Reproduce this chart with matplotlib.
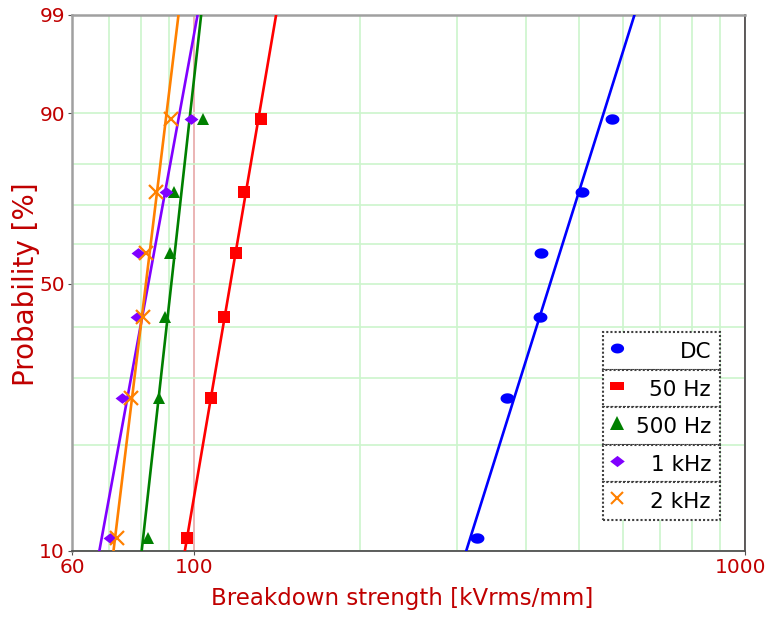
import numpy as np
import matplotlib
matplotlib.use("Agg")
import matplotlib.pyplot as plt
from matplotlib.patches import Rectangle
from matplotlib.transforms import ScaledTranslation

plt.rcParams['font.family'] = ['DejaVu Sans']

# Breakdown values [kVrms/mm], 6 samples per series
labels = ['DC', '50 Hz', '500 Hz', '1 kHz', '2 kHz']
dc = [326, 370, 425, 427, 505, 573]
hz50 = [96.9, 107.3, 113.3, 119.1, 123.0, 132.1]
hz500 = [82.4, 86.2, 88.5, 90.3, 92.0, 103.6]
khz1 = [70.3, 74.1, 78.6, 79.2, 88.9, 98.7]
khz2 = [72.5, 76.8, 80.8, 81.8, 85.1, 90.8]

# Weibull fit lines (scale alpha, shape beta)
alpha = [474, 120.7, 93.1, 85.9, 83.9]
beta = [5.37, 9.9, 15.2, 9.2, 13.9]

colors = ['#0000FF', '#FF0000', '#008000', '#8000FF', '#FF8000']
red_txt = '#C00000'

# median ranks (Bernard)
n = 6
ranks = (np.arange(1, n + 1) - 0.3) / (n + 0.4) * 100


def fwd(p):
    p = np.clip(np.asarray(p, dtype=float), 1e-6, 100 - 1e-6)
    return np.log(-np.log(1 - p / 100))


def inv(w):
    return (1 - np.exp(-np.exp(w))) * 100


ellipse = [(np.cos(t), 0.75 * np.sin(t)) for t in np.linspace(0, 2 * np.pi, 40)]
diamond = [(-1.3, 0), (0, 1), (1.3, 0), (0, -1), (-1.3, 0)]
markers = [dict(marker=ellipse, ms=10, mew=0),
           dict(marker='s', ms=8.5, mew=0),
           dict(marker='^', ms=9, mew=0),
           dict(marker=diamond, ms=10, mew=0),
           dict(marker='x', ms=10, mew=1.6)]
bar = [(-1, -0.55), (1, -0.55), (1, 0.55), (-1, 0.55), (-1, -0.55)]
leg_markers = [dict(marker=ellipse, ms=9.5, mew=0),
               dict(marker=bar, ms=10, mew=0),
               dict(marker='^', ms=10, mew=0),
               dict(marker=diamond, ms=10.5, mew=0),
               dict(marker='x', ms=8, mew=1.5)]

W, H = 769, 617
fig = plt.figure(figsize=(W / 100, H / 100), dpi=100)
ax = fig.add_axes([72 / W, 1 - 551 / H, (745 - 72) / W, (551 - 15) / H])

ax.set_xscale('log')
ax.set_yscale('function', functions=(fwd, inv))
ax.set_xlim(60, 1000)
ax.set_ylim(10, 99)

series = [dc, hz50, hz500, khz1, khz2]
pf = np.linspace(9, 99.5, 300)
for vals, a, b, c, m in zip(series, alpha, beta, colors, markers):
    ax.plot(a * (-np.log(1 - pf / 100)) ** (1 / b), pf, color=c, lw=1.9, zorder=3)
    ax.plot(vals, ranks, ls='none', color=c, zorder=4, **m)

ax.set_xticks([60, 100, 1000])
ax.set_xticklabels(['60', '100', '1000'])
ax.set_xticks([70, 80, 90, 200, 300, 400, 500, 600, 700, 800, 900], minor=True)
ax.set_xticklabels([], minor=True)
ax.set_yticks([10, 50, 90, 99])
ax.set_yticklabels(['10', '50', '90', '99'])
ax.set_yticks([20, 30, 40, 60, 70, 80], minor=True)
ax.set_yticklabels([], minor=True)

ax.grid(True, which='minor', color='#ccf5cc', lw=1.2, zorder=0)
ax.grid(True, which='major', axis='y', color='#ccf5cc', lw=1.2, zorder=0)
ax.grid(True, which='major', axis='x', color='#e8a8a8', lw=1.2, zorder=0)
ax.set_axisbelow(True)

ax.tick_params(which='major', length=3, color='#505050', labelsize=14.5,
               labelcolor=red_txt, pad=2)
ax.tick_params(which='minor', length=0)

# keep the "1000" label inside the canvas
lbl = ax.xaxis.get_major_ticks()[2].label1
lbl.set_transform(lbl.get_transform() + ScaledTranslation(-4 / 100, 0, fig.dpi_scale_trans))

for s in ['left', 'top']:
    ax.spines[s].set_color('#a0a0a0')
    ax.spines[s].set_linewidth(1.8)
for s in ['bottom', 'right']:
    ax.spines[s].set_color('#505050')
    ax.spines[s].set_linewidth(1.3)

ax.set_xlabel('Breakdown strength [kVrms/mm]', fontsize=16.5, color=red_txt)
ax.xaxis.set_label_coords(0.49, -0.067)
ax.set_ylabel('Probability [%]', fontsize=20, color=red_txt)
ax.yaxis.set_label_coords(-0.047, 0.497)

# legend: one dotted box per entry
tf = fig.transFigure
for i, (lab, c, m) in enumerate(zip(labels, colors, leg_markers)):
    top = 332 + i * 37.6
    fig.patches.append(Rectangle((603 / W, 1 - (top + 37.6) / H), 117 / W, 37.6 / H,
                                 transform=tf, fill=True, facecolor='white',
                                 edgecolor='#404040', lw=1.5, ls=(0, (1, 1)), zorder=5))
    fig.lines.append(plt.Line2D([617 / W], [1 - (top + 16) / H], transform=tf,
                                color=c, ls='none', zorder=6, **m))
    fig.text(711 / W, 1 - (top + 20) / H, lab, ha='right', va='center',
             fontsize=15.5, color='black', transform=tf, zorder=6)

fig.savefig('out.png', dpi=100)
